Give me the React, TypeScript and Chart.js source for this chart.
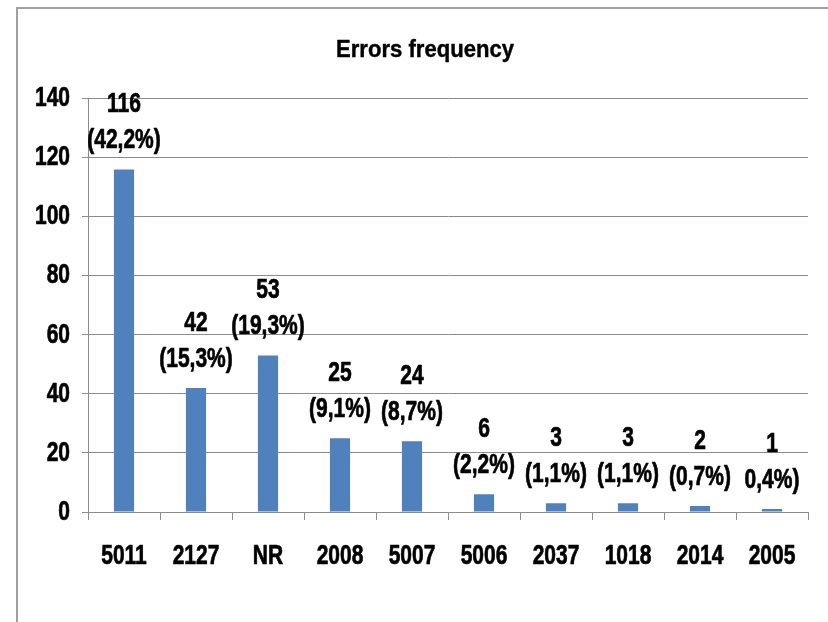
import React, { useEffect, useRef } from "react";
import { Chart, registerables } from "chart.js";

Chart.register(...registerables);

const categories = ["5011", "2127", "NR", "2008", "5007", "5006", "2037", "1018", "2014", "2005"];
const counts = [116, 42, 53, 25, 24, 6, 3, 3, 2, 1];
const percentLabels = ["(42,2%)", "(15,3%)", "(19,3%)", "(9,1%)", "(8,7%)", "(2,2%)", "(1,1%)", "(1,1%)", "(0,7%)", "0,4%)"];
const yMin = 0;
const yMax = 140;
const yStep = 20;
const titleText = "Errors frequency";

const FONT = "'Liberation Sans', Arial, sans-serif";
const TITLE_SIZE = 23;
const TEXT_SIZE = 28;

// Condense glyphs horizontally (the reference uses a narrow bold face)
const condensePlugin = {
  id: "condense",
  afterLayout(chart: any) {
    // centre the title over the framed area rather than the whole canvas
    if (chart.titleBlock) chart.titleBlock.left = 42;
  },
  beforeDraw(chart: any) {
    const ctx = chart.ctx;
    const orig = ctx.fillText;
    ctx.__origFillText = orig;
    ctx.fillText = function (text: string, x: number, y: number, maxWidth?: number) {
      const f: string = ctx.font || "";
      const isTitle = f.indexOf(TITLE_SIZE + "px") >= 0;
      const k = isTitle ? 0.96 : 0.75;
      ctx.save();
      ctx.translate(x, y);
      ctx.scale(k, 1);
      if (maxWidth === undefined) orig.call(ctx, text, 0, 0);
      else orig.call(ctx, text, 0, 0, maxWidth / k);
      ctx.strokeStyle = ctx.fillStyle;
      ctx.lineWidth = isTitle ? 0.4 : 0.7;
      ctx.lineJoin = "round";
      ctx.strokeText(text, 0, 0);
      ctx.restore();
    };
  },
  afterDraw(chart: any) {
    const ctx = chart.ctx;
    if (ctx.__origFillText) {
      ctx.fillText = ctx.__origFillText;
      delete ctx.__origFillText;
    }
  },
};

const labelPlugin = {
  id: "barLabels",
  afterDatasetsDraw(chart: any) {
    const ctx = chart.ctx;
    const meta = chart.getDatasetMeta(0);
    ctx.save();
    ctx.fillStyle = "#000";
    ctx.font = `bold ${TEXT_SIZE}px ${FONT}`;
    ctx.textAlign = "center";
    ctx.textBaseline = "alphabetic";
    meta.data.forEach((bar: any, i: number) => {
      const x = bar.x;
      const top = bar.y;
      ctx.fillText(String(counts[i]), x, top - 57);
      ctx.fillText(percentLabels[i], x, top - 21);
    });
    ctx.restore();
  },
};

export default function App() {
  const ref = useRef<HTMLCanvasElement | null>(null);
  useEffect(() => {
    if (!ref.current) return;
    const chart = new Chart(ref.current, {
      type: "bar",
      data: {
        labels: categories,
        datasets: [
          {
            data: counts,
            backgroundColor: "#4F81BD",
            borderWidth: 0,
            barPercentage: 0.28,
            categoryPercentage: 1,
          },
        ],
      },
      options: {
        animation: false,
        responsive: false,
        maintainAspectRatio: false,
        layout: { padding: { left: 0, right: 20, top: 0, bottom: 0 } },
        plugins: {
          legend: { display: false },
          tooltip: { enabled: false },
          title: {
            display: true,
            text: titleText,
            color: "#000",
            font: { family: FONT, size: TITLE_SIZE, weight: "bold", lineHeight: 1.2 },
            padding: { top: 37, bottom: 34 },
          },
        },
        scales: {
          x: {
            afterFit(scale: any) {
              scale.height = 110;
            },
            grid: {
              display: true,
              drawOnChartArea: false,
              drawTicks: true,
              tickLength: 8,
              color: "#8c8c8c",
              offset: true,
            },
            border: { display: true, color: "#8c8c8c", width: 1 },
            ticks: {
              color: "#000",
              font: { family: FONT, size: TEXT_SIZE, weight: "bold" },
              padding: 19,
              maxRotation: 0,
              minRotation: 0,
              autoSkip: false,
            },
          },
          y: {
            min: yMin,
            max: yMax,
            afterFit(scale: any) {
              scale.width = 88;
            },
            grid: {
              color: "#8c8c8c",
              tickLength: 6,
              lineWidth: 1,
            },
            border: { display: true, color: "#8c8c8c", width: 1 },
            ticks: {
              stepSize: yStep,
              color: "#000",
              font: { family: FONT, size: TEXT_SIZE, weight: "bold" },
              padding: 12,
            },
          },
        },
      },
      plugins: [condensePlugin, labelPlugin],
    });
    return () => chart.destroy();
  }, []);

  return (
    <div
      style={{
        position: "fixed",
        left: 0,
        top: 0,
        width: 828,
        height: 622,
        overflow: "hidden",
        background: "#fff",
      }}
    >
      <div
        style={{
          position: "absolute",
          left: 16,
          top: 7,
          width: 900,
          height: 700,
          borderLeft: "2px solid #a0a0a0",
          borderTop: "2px solid #a0a0a0",
        }}
      />
      <canvas ref={ref} width={828} height={622} style={{ position: "absolute", left: 0, top: 0 }} />
    </div>
  );
}
